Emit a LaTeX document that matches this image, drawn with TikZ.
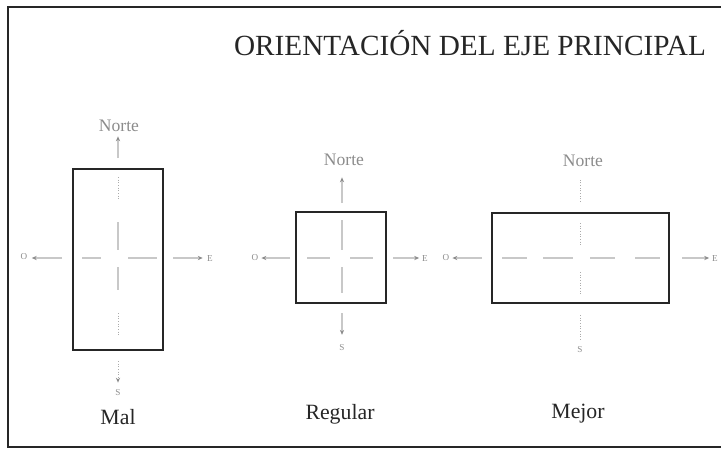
\documentclass[tikz,border=0pt]{standalone}
\usepackage{fontspec}
\setmainfont{Liberation Serif}
\usetikzlibrary{positioning, arrows.meta}
\definecolor{boxInk}{HTML}{262626}
\definecolor{axLine}{HTML}{C8C8C8}
\definecolor{axDot}{HTML}{ABABAB}
\definecolor{axInk}{HTML}{8C8C8C}
\tikzset{
  plano/.style={draw=boxInk, line width=1.1pt, inner sep=0pt},
  rumbo/.style={font=\fontsize{12.5}{14}\selectfont, text=axInk, inner sep=1pt},
  letra/.style={font=\fontsize{6.5}{7}\selectfont, text=axInk, inner sep=1pt},
  veredicto/.style={font=\fontsize{15.5}{18}\selectfont, text=boxInk, inner sep=1pt},
  titulo/.style={font=\fontsize{20.8}{24}\selectfont, text=boxInk, inner sep=1pt},
  eje/.style={draw=axLine, line width=0.9pt},
  ejepunto/.style={draw=axDot, line width=0.7pt, dash pattern=on 0.7pt off 1.2pt},
  ejeflecha/.style={eje, -{Stealth[length=3.5pt,width=3pt,color=axInk]}},
  ejepuntoflecha/.style={ejepunto, -{Stealth[length=3.5pt,width=3pt,color=axInk]}},
}

\begin{document}
\begin{tikzpicture}[x=0.025cm, y=-0.025cm]
  \useasboundingbox (0,0) rectangle (721,449);
  % marco
  \draw[boxInk, line width=0.8pt] (721,7) -- (8,7) -- (8,447) -- (721,447);
  \node[titulo] (titulo) at (470,43) {ORIENTACIÓN DEL EJE PRINCIPAL};

  % Mal
  \node[plano, minimum width=2.25cm, minimum height=4.525cm] (mal) at (118,259.5) {};
  \node[rumbo] (malN) at (119,126) {Norte};
  \node[letra] (malS) at (118,393) {S};
  \node[letra] (malO) at (24,257) {O};
  \node[letra] (malE) at (210,258) {E};
  \node[veredicto] (malV) at (118,417) {Mal};
  \coordinate (malNa) at (118,158);
  \coordinate (malSa) at (118,361);
  \coordinate (malOa) at (62,258);
  \coordinate (malEa) at (173,258);
  \draw[ejeflecha, shorten >=2pt] (malNa) -- (malNa |- malN.south);
  \draw[ejepuntoflecha, shorten >=4pt] (malSa) -- (malSa |- malS.north);
  \draw[ejeflecha, shorten >=2pt] (malOa) -- (malOa -| malO.east);
  \draw[ejeflecha, shorten >=2pt] (malEa) -- (malEa -| malE.west);
  \draw[eje] (82,258) -- (101,258) (128,258) -- (157,258);
  \draw[ejepunto] (118,177) -- (118,200) (118,313) -- (118,337);
  \draw[eje] (118,222) -- (118,250) (118,267) -- (118,290);

  % Regular
  \node[plano, minimum width=2.25cm, minimum height=2.275cm] (regular) at (341,257.5) {};
  \node[rumbo] (regN) at (344,160) {Norte};
  \node[letra] (regS) at (342,348) {S};
  \node[letra] (regO) at (255,258) {O};
  \node[letra] (regE) at (425,258) {E};
  \node[veredicto] (regV) at (340,414) {Regular};
  \coordinate (regNa) at (342,203);
  \coordinate (regSa) at (342,313);
  \coordinate (regOa) at (290,258);
  \coordinate (regEa) at (393,258);
  \draw[ejeflecha, shorten >=7pt] (regNa) -- (regNa |- regN.south);
  \draw[ejeflecha, shorten >=6pt] (regSa) -- (regSa |- regS.north);
  \draw[ejeflecha, shorten >=1pt] (regOa) -- (regOa -| regO.east);
  \draw[ejeflecha, shorten >=1pt] (regEa) -- (regEa -| regE.west);
  \draw[eje] (307,258) -- (330,258) (350,258) -- (373,258);
  \draw[eje] (342,220) -- (342,250) (342,267) -- (342,293);

  % Mejor
  \node[plano, minimum width=4.425cm, minimum height=2.25cm] (mejor) at (580.5,258) {};
  \node[rumbo] (mejN) at (583,161) {Norte};
  \node[letra] (mejS) at (580,350) {S};
  \node[letra] (mejO) at (446,258) {O};
  \node[letra] (mejE) at (715,258) {E};
  \node[veredicto] (mejV) at (578,414) {Mejor};
  \coordinate (mejNa) at (580,202);
  \coordinate (mejSa) at (580,315);
  \coordinate (mejOa) at (482,258);
  \coordinate (mejEa) at (682,258);
  \draw[ejepunto, shorten >=7pt] (mejNa) -- (mejNa |- mejN.south);
  \draw[ejepunto, shorten >=3pt] (mejSa) -- (mejSa |- mejS.north);
  \draw[ejeflecha, shorten >=1pt] (mejOa) -- (mejOa -| mejO.east);
  \draw[ejeflecha, shorten >=1pt] (mejEa) -- (mejEa -| mejE.west);
  \draw[eje] (502,258) -- (527,258) (543,258) -- (573,258)
             (590,258) -- (615,258) (635,258) -- (660,258);
  \draw[ejepunto] (580,223) -- (580,247) (580,272) -- (580,295);
\end{tikzpicture}
\end{document}
